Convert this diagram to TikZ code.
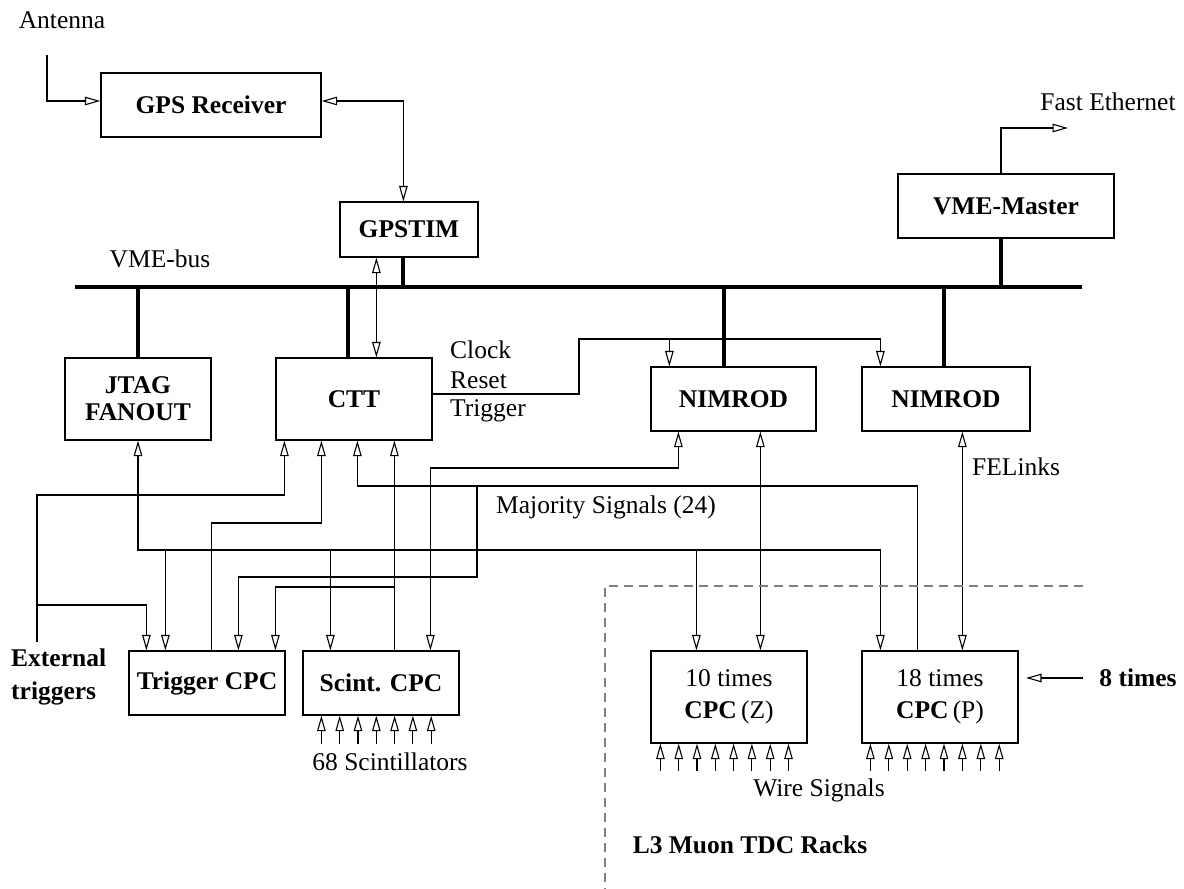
\documentclass[tikz,border=0pt]{standalone}
\usepackage{fontspec}
\setmainfont{Liberation Serif}
\usetikzlibrary{arrows.meta}
\newcommand\myfs{\fontsize{25.5}{30}\selectfont}
\begin{document}
\begin{tikzpicture}[x=1pt,y=-1pt,
  every node/.style={font=\myfs, inner sep=0pt},
  box/.style={draw, line width=1.2pt, font=\myfs\bfseries, align=center},
  wire/.style={line width=1.1pt},
  arr/.style={wire,-{Triangle[open,length=15.5pt,width=8.5pt]}},
  darr/.style={wire,{Triangle[open,length=15.5pt,width=8.5pt]}-{Triangle[open,length=15.5pt,width=8.5pt]}},
  bus/.style={line width=4pt},
  rack/.style={line width=1.1pt, gray, dash pattern=on 9pt off 6pt}
]
\useasboundingbox (0,0) rectangle (1184,889);

% boxes
\node[box, minimum width=220pt, minimum height=64pt] (gps) at (211,105) {GPS Receiver};
\node[box, minimum width=138pt, minimum height=55pt] (gpstim) at (409,229.5) {GPSTIM};
\node[box, minimum width=216pt, minimum height=64pt] (vmem) at (1006,206) {VME-Master};
\node[box, minimum width=146pt, minimum height=82pt, font=\fontsize{25.5}{27}\selectfont\bfseries] (jtag) at (138,399) {JTAG\\FANOUT};
\node[box, minimum width=156pt, minimum height=82pt] (ctt) at (354,399) {CTT};
\node[box, minimum width=165pt, minimum height=64pt] (nim1) at (733.5,399) {NIMROD};
\node[box, minimum width=168pt, minimum height=64pt] (nim2) at (946,399) {NIMROD};
\node[box, minimum width=156pt, minimum height=64pt] (tcpc) at (207,683) {Trigger CPC};
\node[box, minimum width=156pt, minimum height=64pt] (scpc) at (381,683) {Scint. CPC};
\node[box, minimum width=156pt, minimum height=92pt, font=\fontsize{25.5}{32}\selectfont] (cpcz) at (729,697) {10 times\\\textbf{CPC}\,(Z)};
\node[box, minimum width=156pt, minimum height=92pt, font=\fontsize{25.5}{32}\selectfont] (cpcp) at (940,697) {18 times\\\textbf{CPC}\,(P)};

% labels
\node (antl) at (62,20) {Antenna};
\node (vmel) at (160,259) {VME-bus};
\node (fel) at (1108,102) {Fast Ethernet};
\node[anchor=west] (clk) at (450,350) {Clock};
\node[anchor=west] (rst) at (450,380) {Reset};
\node[anchor=west] (trg) at (450,411) {Trigger};
\node (maj) at (606,507) {Majority Signals (24)};
\node[anchor=west] (fell) at (972,467) {FELinks};
\node (scl) at (390,762) {68 Scintillators};
\node (wsl) at (819,790) {Wire Signals};
\node[font=\myfs\bfseries] (l3) at (750,845) {L3 Muon TDC Racks};
\node[anchor=west, align=left, font=\fontsize{25.5}{33}\selectfont\bfseries] (ext) at (11,677) {External\\triggers};
\node[font=\myfs\bfseries] (eight) at (1138,678) {8 times};

% level coordinates
\coordinate (busL) at (75,287);
\coordinate (busR) at (1082,287);
\coordinate (y468) at (0,468);
\coordinate (y486) at (0,486);
\coordinate (y495) at (0,495);
\coordinate (y523) at (0,523);
\coordinate (y550) at (0,550);
\coordinate (y577) at (0,577);
\coordinate (y587) at (0,587);

% VME bus and drops
\draw[bus] (busL) -- (busR);
\coordinate (jt) at (jtag.north);
\coordinate (ct) at ([xshift=73pt]ctt.north west);
\coordinate (gt) at ([xshift=64pt]gpstim.south west);
\coordinate (n1t) at ([xshift=74pt]nim1.north west);
\coordinate (n2t) at ([xshift=83pt]nim2.north west);
\coordinate (vmb) at ([xshift=-5pt]vmem.south);
\foreach \p in {jt,ct,gt,n1t,n2t,vmb} \draw[bus] (\p) -- (\p |- busL);

% antenna and fast ethernet
\coordinate (ant) at (47,55);
\draw[arr] (ant) |- ([yshift=4pt]gps.west);
\coordinate (fe) at (1068,128);
\draw[arr] ([xshift=-5pt]vmem.north) |- (fe);

% GPS <-> GPSTIM <-> CTT
\coordinate (gr) at ([yshift=4pt]gps.east);
\coordinate (gtt) at ([xshift=64pt]gpstim.north west);
\draw[darr] (gr) -| (gtt);
\coordinate (gb) at ([xshift=37pt]gpstim.south west);
\coordinate (ca) at ([xshift=101pt]ctt.north west);
\draw[darr] (gb) -- (ca);

% clock / reset / trigger
\coordinate (co) at ([yshift=5pt]ctt.east);
\coordinate (ck) at (579,339);
\coordinate (n1a) at ([xshift=19pt]nim1.north west);
\coordinate (n2a) at ([xshift=19pt]nim2.north west);
\draw[arr] (co) -| (ck) -| (n2a);
\draw[arr] (n1a |- ck) -- (n1a);

% pins
\coordinate (c1) at ([xshift=9pt]ctt.south west);
\coordinate (c2) at ([xshift=46pt]ctt.south west);
\coordinate (c3) at ([xshift=82pt]ctt.south west);
\coordinate (c4) at ([xshift=119pt]ctt.south west);
\coordinate (t1) at ([xshift=18pt]tcpc.north west);
\coordinate (t2) at ([xshift=37pt]tcpc.north west);
\coordinate (t3) at ([xshift=110pt]tcpc.north west);
\coordinate (t4) at ([xshift=83pt]tcpc.north west);
\coordinate (t5) at ([xshift=147pt]tcpc.north west);
\coordinate (s1) at ([xshift=28pt]scpc.north west);
\coordinate (s2) at ([xshift=92pt]scpc.north west);
\coordinate (s3) at ([xshift=128pt]scpc.north west);
\coordinate (n1b) at ([xshift=28pt]nim1.south west);
\coordinate (n1c) at ([xshift=110pt]nim1.south west);
\coordinate (n2b) at ([xshift=101pt]nim2.south west);
\coordinate (z1) at ([xshift=46pt]cpcz.north west);
\coordinate (z2) at ([xshift=110pt]cpcz.north west);
\coordinate (p1) at ([xshift=19pt]cpcp.north west);
\coordinate (p2) at ([xshift=56pt]cpcp.north west);
\coordinate (p3) at ([xshift=101pt]cpcp.north west);

% external triggers
\coordinate (ex) at (37,642);
\coordinate (eb) at (37,605);
\draw[arr] (ex) -- (ex |- y495) -| (c1);
\draw[arr] (eb) -| (t1);

% trigger CPC -> CTT
\draw[arr] (t4) -- (t4 |- y523) -| (c2);

% JTAG fanout net
\draw[darr] (jtag.south) -- (jtag.south |- y550) -| (p1);
\foreach \p in {t2,s1,z1} \draw[arr] (\p |- y550) -- (\p);

% majority signals
\draw[arr] (p2) -- (p2 |- y486) -| (c3);
\coordinate (mj) at (477,486);
\draw[arr] (mj) -- (mj |- y577) -| (t3);

% scint CPC -> CTT
\draw[arr] (s2) -- (c4);
\draw[arr] (s2 |- y587) -| (t5);

% scint CPC <-> NIMROD
\draw[darr] (s3) -- (s3 |- y468) -| (n1b);
\draw[darr] (n1c) -- (z2);
\draw[darr] (n2b) -- (p3);

% 8 times
\coordinate (e8) at (1083,678);
\coordinate (e8b) at (1026,678);
\draw[arr] (e8) -- (e8b);

% input arrows
\foreach \i in {0,...,6} \draw[arr] ([xshift={19+18.3*\i}, yshift=-28pt]scpc.south west) -- ([xshift={19+18.3*\i}]scpc.south west);
\foreach \i in {0,...,7} \draw[arr] ([xshift={10+18.3*\i}, yshift=-27pt]cpcz.south west) -- ([xshift={10+18.3*\i}]cpcz.south west);
\foreach \i in {0,...,7} \draw[arr] ([xshift={9+18.4*\i}, yshift=-27pt]cpcp.south west) -- ([xshift={9+18.4*\i}]cpcp.south west);

% rack boundary
\coordinate (d1) at (1083,586);
\coordinate (d2) at (605,586);
\coordinate (d3) at (605,889);
\draw[rack] (d1) -- (d2) -- (d3);
\end{tikzpicture}
\end{document}
